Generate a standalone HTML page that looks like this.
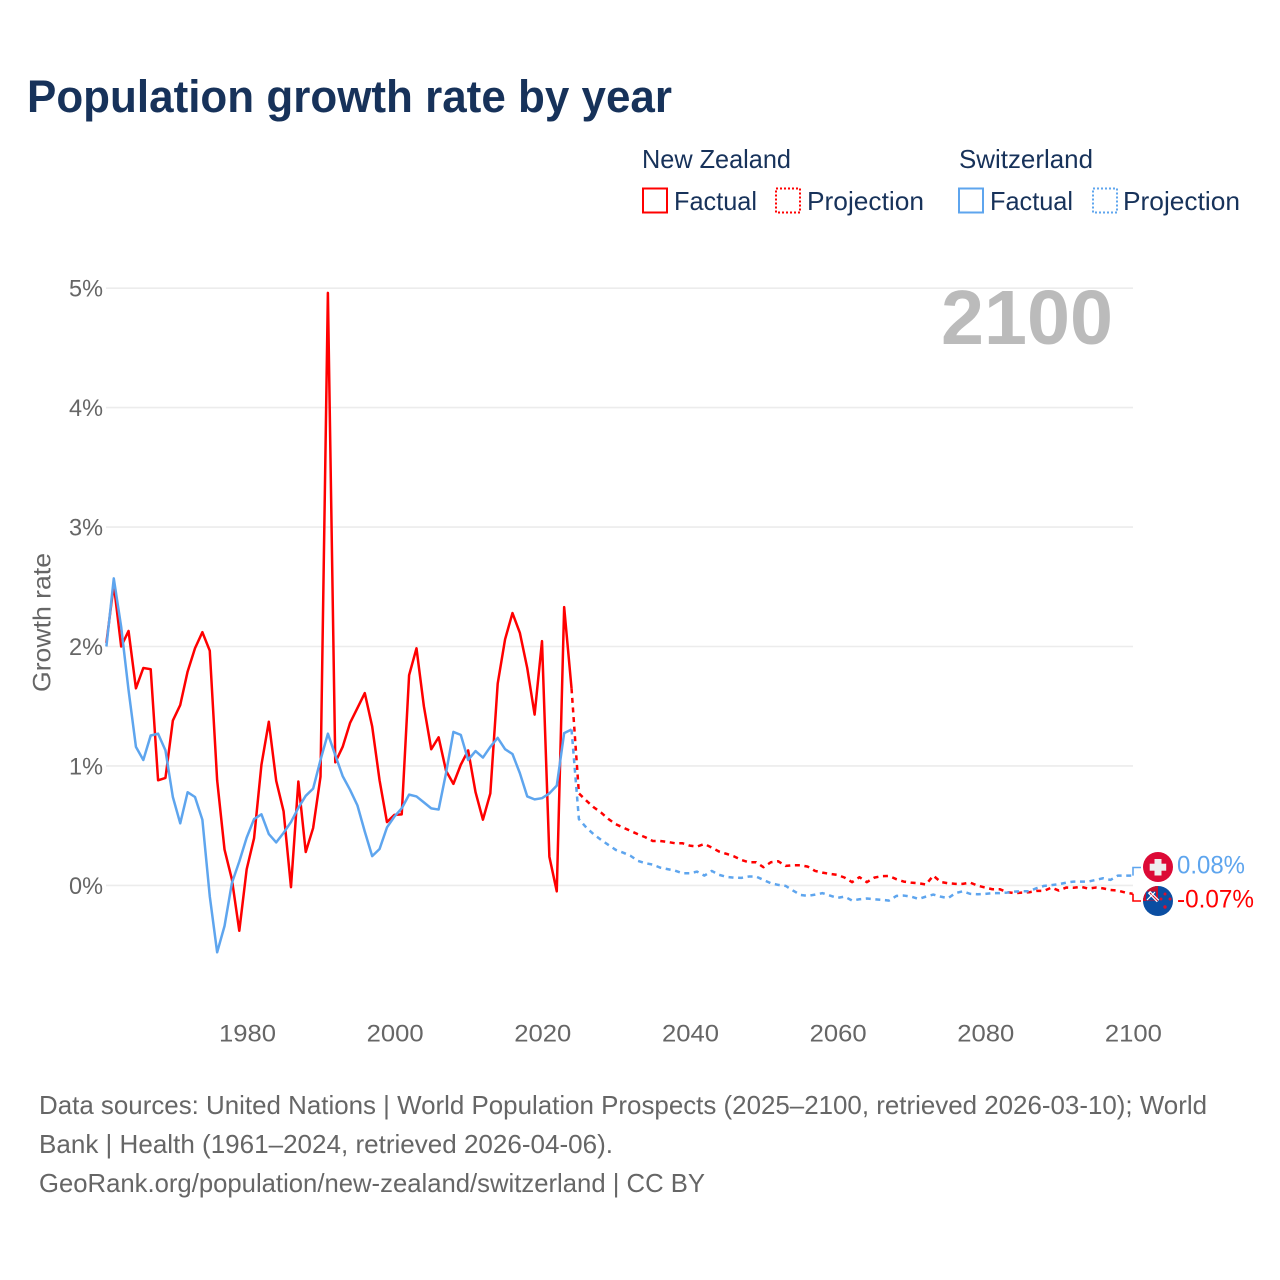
<!DOCTYPE html>
<html lang="en">
<head>
<meta charset="utf-8">
<title>Population growth rate by year</title>
<style>
html,body{margin:0;padding:0;background:#fff;width:1280px;height:1280px;overflow:hidden}
svg{display:block}
text{font-family:"Liberation Sans",sans-serif}
</style>
</head>
<body>
<svg id="chart" xmlns="http://www.w3.org/2000/svg" width="1280" height="1280" viewBox="0 0 1280 1280">
  <defs>
    <clipPath id="ch-clip"><circle cx="1158" cy="867" r="15"/></clipPath>
    <clipPath id="nz-clip"><circle cx="1158" cy="901" r="15"/></clipPath>
  </defs>
  <rect width="1280" height="1280" fill="#fff"/>
  <text x="27" y="112" font-size="45" font-weight="700" fill="#17325a" textLength="645" lengthAdjust="spacingAndGlyphs">Population growth rate by year</text>

  <g font-size="26" fill="#17325a">
    <text x="642" y="168" textLength="149" lengthAdjust="spacingAndGlyphs">New Zealand</text>
    <text x="959" y="168" textLength="134" lengthAdjust="spacingAndGlyphs">Switzerland</text>
    <rect x="643" y="188.5" width="24" height="24" fill="none" stroke="#f00" stroke-width="2"/>
    <text x="674" y="210" textLength="83" lengthAdjust="spacingAndGlyphs">Factual</text>
    <rect x="776" y="188.5" width="24" height="24" fill="none" stroke="#f00" stroke-width="2" stroke-dasharray="2 2"/>
    <text x="807" y="210" textLength="117" lengthAdjust="spacingAndGlyphs">Projection</text>
    <rect x="959" y="188.5" width="24" height="24" fill="none" stroke="#5ea5ee" stroke-width="2"/>
    <text x="990" y="210" textLength="83" lengthAdjust="spacingAndGlyphs">Factual</text>
    <rect x="1093" y="188.5" width="24" height="24" fill="none" stroke="#5ea5ee" stroke-width="2" stroke-dasharray="2 2"/>
    <text x="1123" y="210" textLength="117" lengthAdjust="spacingAndGlyphs">Projection</text>
  </g>

  <g id="grid"></g>
  <g id="y-ticks"></g>
  <g id="x-ticks"></g>

  <text transform="translate(50.5,692) rotate(-90)" font-size="25" fill="#666" textLength="139" lengthAdjust="spacingAndGlyphs">Growth rate</text>
  <text x="941" y="344" font-size="77" font-weight="700" fill="#bbb" textLength="172" lengthAdjust="spacingAndGlyphs">2100</text>

  <g id="series"></g>

  <g clip-path="url(#ch-clip)">
    <rect x="1143" y="852" width="30" height="30" fill="#dc0a36"/>
    <rect x="1154.5" y="859" width="7" height="16.5" fill="#eee"/>
    <rect x="1149.7" y="863.7" width="16.5" height="7" fill="#eee"/>
  </g>
  <g clip-path="url(#nz-clip)">
    <rect x="1143" y="886" width="30" height="30" fill="#0b4ea2"/>
    <rect x="1143" y="886" width="15" height="15" fill="#c8102e"/>
    <rect x="1146" y="891.5" width="10" height="9" fill="#0b4ea2"/>
    <path d="M1149 892 L1158 901" stroke="#fff" stroke-width="3.4" fill="none"/>
    <path d="M1150 893 L1158 901" stroke="#c8102e" stroke-width="1" fill="none"/>
    <path d="M1155 892 L1147 900" stroke="#fff" stroke-width="1.2" fill="none"/>
    <circle cx="1165" cy="894" r="1.5" fill="#d8112e"/>
    <circle cx="1170" cy="899" r="1.5" fill="#d8112e"/>
    <circle cx="1161" cy="899" r="1.5" fill="#d8112e"/>
    <circle cx="1165" cy="907" r="1.7" fill="#d8112e"/>
  </g>
  <g id="end-labels"></g>

  <g font-size="26" fill="#666">
    <text x="39" y="1114" textLength="1168" lengthAdjust="spacingAndGlyphs">Data sources: United Nations | World Population Prospects (2025–2100, retrieved 2026-03-10); World</text>
    <text x="39" y="1153" textLength="574" lengthAdjust="spacingAndGlyphs">Bank | Health (1961–2024, retrieved 2026-04-06).</text>
    <text x="39" y="1192" textLength="666" lengthAdjust="spacingAndGlyphs">GeoRank.org/population/new-zealand/switzerland | CC BY</text>
  </g>
</svg>

<script>
const xTickLabels = ['1980','2000','2020','2040','2060','2080','2100'];
const yTickValues = [0,1,2,3,4,5];
const yTickLabels = ['0%','1%','2%','3%','4%','5%'];
const endLabels = ['-0.07%','0.08%'];
const factualStartYear = 1961;
const projectionStartYear = 2025;

const nzFactual = [2.03,2.52,2.00,2.13,1.65,1.82,1.81,0.88,0.90,1.38,1.51,1.79,1.985,2.12,1.965,0.88,0.30,0.05,-0.38,0.135,0.395,1.01,1.37,0.875,0.62,-0.015,0.87,0.28,0.48,0.91,4.96,1.03,1.16,1.36,1.485,1.61,1.33,0.88,0.53,0.59,0.595,1.76,1.985,1.50,1.14,1.24,0.96,0.85,1.01,1.13,0.78,0.55,0.77,1.69,2.06,2.28,2.115,1.82,1.43,2.045,0.24,-0.05,2.33,1.65];
const chFactual = [2.00,2.57,2.165,1.635,1.16,1.05,1.255,1.27,1.13,0.74,0.52,0.78,0.74,0.55,-0.09,-0.56,-0.34,0.02,0.2,0.40,0.555,0.595,0.43,0.36,0.44,0.53,0.65,0.75,0.81,1.05,1.27,1.09,0.915,0.80,0.67,0.45,0.245,0.305,0.485,0.575,0.645,0.76,0.745,0.695,0.645,0.635,0.94,1.285,1.26,1.05,1.125,1.07,1.16,1.235,1.14,1.10,0.94,0.745,0.72,0.73,0.77,0.835,1.275,1.305];
const nzProjection = [0.77,0.71,0.654,0.61,0.556,0.512,0.484,0.456,0.428,0.403,0.372,0.372,0.364,0.353,0.353,0.333,0.325,0.347,0.316,0.283,0.264,0.243,0.213,0.194,0.194,0.152,0.194,0.202,0.163,0.169,0.169,0.157,0.121,0.107,0.096,0.088,0.065,0.027,0.069,0.027,0.065,0.077,0.079,0.052,0.032,0.023,0.018,0.007,0.082,0.029,0.018,0.013,0.013,0.023,-0.002,-0.018,-0.032,-0.032,-0.057,-0.065,-0.06,-0.057,-0.046,-0.046,-0.018,-0.043,-0.018,-0.02,-0.012,-0.027,-0.018,-0.025,-0.038,-0.043,-0.06,-0.07];
const chProjection = [0.555,0.484,0.428,0.381,0.339,0.297,0.274,0.247,0.205,0.186,0.174,0.149,0.136,0.124,0.102,0.102,0.115,0.082,0.121,0.088,0.071,0.065,0.063,0.074,0.074,0.046,0.018,0.004,-0.004,-0.043,-0.08,-0.088,-0.077,-0.065,-0.085,-0.105,-0.094,-0.127,-0.116,-0.11,-0.116,-0.121,-0.127,-0.088,-0.085,-0.094,-0.113,-0.094,-0.077,-0.094,-0.107,-0.065,-0.049,-0.071,-0.074,-0.071,-0.065,-0.065,-0.06,-0.052,-0.049,-0.049,-0.023,-0.004,0.002,0.01,0.023,0.032,0.032,0.032,0.046,0.06,0.046,0.082,0.082,0.082];

const NS = 'http://www.w3.org/2000/svg';
const RED = '#ff0000';
const BLUE = '#5ea5ee';
function xScale(year){ return 106.4 + (year - 1961) * 7.383; }
function yScale(value){ return 885.4 - value * 119.45; }
function pointsFrom(startYear, values){
  return values.map(function(v, i){ return xScale(startYear + i).toFixed(2) + ',' + yScale(v).toFixed(2); });
}
function make(tag, attrs, parent){
  const el = document.createElementNS(NS, tag);
  Object.keys(attrs).forEach(function(k){ el.setAttribute(k, attrs[k]); });
  parent.appendChild(el);
  return el;
}

const gridG = document.getElementById('grid');
const yG = document.getElementById('y-ticks');
yTickValues.forEach(function(v, i){
  const line = make('line', {x1:106, x2:1133, y1:yScale(v), y2:yScale(v), stroke:'#ececec', 'stroke-width':1.6}, gridG);
  
  
  const t = make('text', {x:103, y:yScale(v)+8.5, 'text-anchor':'end', 'font-size':24.5, fill:'#666', textLength:34, lengthAdjust:'spacingAndGlyphs'}, yG);
  
  
  t.textContent = yTickLabels[i];
});

const xG = document.getElementById('x-ticks');
xTickLabels.forEach(function(label){
  const t = make('text', {x:xScale(+label)+0.8, y:1041.5, 'text-anchor':'middle', 'font-size':24.5, fill:'#666', textLength:57, lengthAdjust:'spacingAndGlyphs'}, xG);
  
  
  t.textContent = label;
});

const seriesG = document.getElementById('series');
function drawLine(points, color, dashed, name){
  const attrs = {points:points.join(' '), fill:'none', stroke:color, 'stroke-width':2.5, 'stroke-linejoin':'round'};
  if (dashed) attrs['stroke-dasharray'] = '5 4.6';
  const p = make('polyline', attrs, seriesG);
  
  
}
drawLine(pointsFrom(projectionStartYear - 1, [nzFactual[nzFactual.length-1]].concat(nzProjection)), RED, true, 'nz-projection-line');
drawLine(pointsFrom(factualStartYear, nzFactual), RED, false, 'nz-factual-line');
drawLine(pointsFrom(projectionStartYear - 1, [chFactual[chFactual.length-1]].concat(chProjection)), BLUE, true, 'ch-projection-line');
drawLine(pointsFrom(factualStartYear, chFactual), BLUE, false, 'ch-factual-line');

const nzEnd = yScale(nzProjection[nzProjection.length-1]);
const chEnd = yScale(chProjection[chProjection.length-1]);
const nzConnector = make('polyline', {points:'1133,' + nzEnd + ' 1133,901 1141,901', fill:'none', stroke:RED, 'stroke-width':1.6}, seriesG);


const chConnector = make('polyline', {points:'1133,' + chEnd + ' 1133,867.5 1141,867.5', fill:'none', stroke:BLUE, 'stroke-width':1.6}, seriesG);



const labelG = document.getElementById('end-labels');
const nzLabel = make('text', {x:1177, y:907.5, 'font-size':25, fill:RED, textLength:77, lengthAdjust:'spacingAndGlyphs'}, labelG);


nzLabel.textContent = endLabels[0];
const chLabel = make('text', {x:1177, y:873.5, 'font-size':25, fill:BLUE, textLength:68, lengthAdjust:'spacingAndGlyphs'}, labelG);


chLabel.textContent = endLabels[1];
</script>
</body>
</html>
